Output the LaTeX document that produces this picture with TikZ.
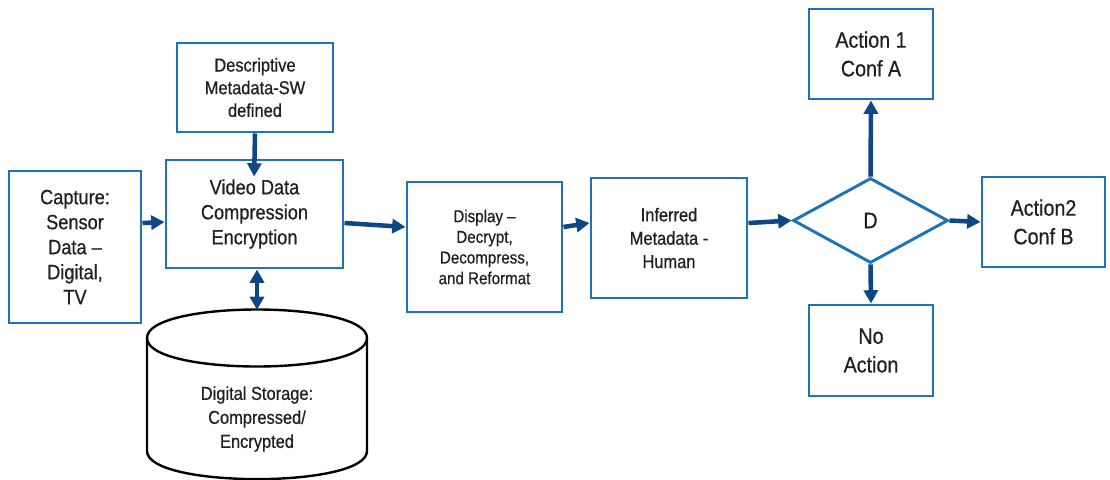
\documentclass[tikz,border=0pt]{standalone}
\usepackage{fontspec}
\setmainfont{Liberation Sans}[FakeStretch=0.88,FakeBold=0.6]
\usetikzlibrary{shapes.geometric,arrows.meta,calc}
\definecolor{boxblue}{RGB}{30,115,186}
\definecolor{arrblue}{RGB}{14,72,132}
\definecolor{txt}{RGB}{35,31,32}
\begin{document}
\begin{tikzpicture}[x=0.75pt,y=-0.75pt,
  box/.style={draw=boxblue, line width=2.2pt, fill=white, text=txt, align=center, inner sep=0pt},
  arr/.style={draw=arrblue, line width=3.4pt, -{Triangle[length=10pt,width=10.5pt]}},
  darr/.style={draw=arrblue, line width=3.4pt, {Triangle[length=10pt,width=10.5pt]}-{Triangle[length=10pt,width=10.5pt]}},
  fbig/.style={font=\fontsize{15.5}{18.75}\selectfont},
  fmid/.style={font=\fontsize{14}{17}\selectfont},
  fsm/.style={font=\fontsize{12.9}{15.5}\selectfont},
  fact/.style={font=\fontsize{16.8}{21.5}\selectfont}]
\useasboundingbox (0,0) rectangle (1110,479);

% nodes
\node[box, fbig, minimum width=99pt, minimum height=114pt] (cap) at (75,247) {Capture:\\Sensor\\Data --\\Digital,\\TV};
\node[box, fmid, minimum width=117pt, minimum height=66.75pt] (desc) at (255,87.5) {Descriptive\\Metadata-SW\\defined};
\node[box, fbig, minimum width=132.75pt, minimum height=81pt] (vid) at (254.5,214) {Video Data\\Compression\\Encryption};
\node[box, fsm, minimum width=116.25pt, minimum height=97.5pt] (disp) at (484.5,247) {Display --\\Decrypt,\\Decompress,\\and Reformat};
\node[box, fmid, font=\fontsize{14}{17.5}\selectfont, minimum width=117pt, minimum height=90pt] (inf) at (669,238) {Inferred\\Metadata -\\Human};
\node[box, fact, shape=diamond, aspect=1.82, minimum width=116.25pt, minimum height=63.75pt] (D) at (870.5,220.5) {D};
\node[box, fact, minimum width=93pt, minimum height=67.5pt] (a1) at (871,54) {Action 1\\Conf A};
\node[box, fact, minimum width=92.25pt, minimum height=67.5pt] (a2) at (1043.5,222) {Action2\\Conf B};
\node[box, fact, minimum width=93pt, minimum height=68.25pt] (na) at (871,350.5) {No\\Action};

% storage cylinder
\draw[line width=1.8pt, fill=white] (147,338) -- (147,451) .. controls (147,488.5) and (367,488.5) .. (367,451) -- (367,338);
\draw[line width=1.8pt] (147,338) .. controls (147,300) and (367,300) .. (367,338) .. controls (367,376) and (147,376) .. (147,338);
\coordinate (stor) at (257,310);
\node[text=txt, align=center, font=\fontsize{14}{18}\selectfont] (stortxt) at (257,419) {Digital Storage:\\Compressed/\\Encrypted};

% connectors
\draw[arr] ($(cap.east)+(0,-24)$) -- ($(vid.west)+(0,8)$);
\draw[arr, shorten >=-13.5pt] (desc.south) -- (vid.north);
\draw[darr] ($(vid.south)+(2.5,0)$) -- (stor);
\draw[arr] ($(vid.east)+(0,9)$) -- ($(disp.west)+(0,-20)$);
\draw[arr] ($(disp.east)+(0,-20)$) -- ($(inf.west)+(0,-15)$);
\draw[arr] ($(inf.east)+(0,-15)$) -- (D.west);
\draw[arr] (D.north) -- (a1.south);
\draw[arr] (D.east) -- (a2.west);
\draw[arr] (D.south) -- (na.north);
\end{tikzpicture}
\end{document}
